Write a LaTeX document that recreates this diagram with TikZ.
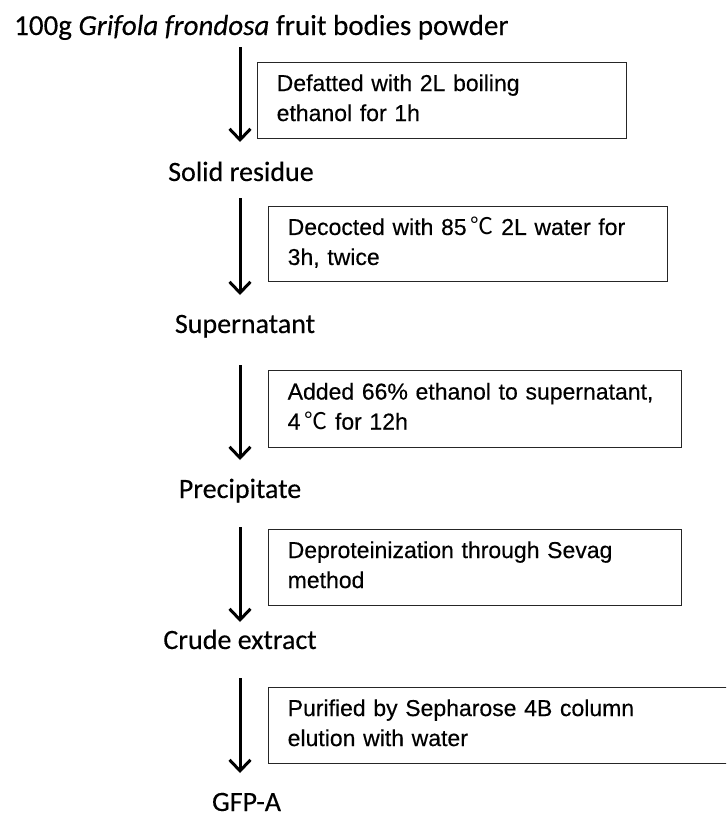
\documentclass[tikz,border=0pt]{standalone}
\usepackage{fontspec}
\setmainfont{Carlito}[FakeBold=0.3]
\newfontfamily\boxfont{Liberation Sans}[FakeBold=0.35]
\newfontfamily\cjkfont{Noto Sans CJK SC}
\usetikzlibrary{arrows.meta}
\newcommand\myC{{\cjkfont ℃}}
\newcommand\bstrut{\rule[-6pt]{0pt}{22pt}}
\tikzset{
  lab/.style={font=\fontsize{28}{34}\selectfont, text=black, inner sep=0pt},
  stepbox/.style={draw=black!85, line width=1.4pt, text=black,
    font=\boxfont\fontsize{23}{30}\selectfont, align=left,
    inner xsep=19pt, inner ysep=0pt, anchor=north west},
  flow/.style={line width=3pt, -{Straight Barb[length=11pt,width=21pt,line width=3pt]}}
}
\begin{document}
\begin{tikzpicture}[x=1pt,y=-1pt]
\useasboundingbox (0,0) rectangle (726,819);
\fill[white] (0,0) rectangle (726,819);
\clip (0,0) rectangle (726,819);

% labels
\node[lab, anchor=base west, font=\fontsize{29}{34}\selectfont] (title) at (14,35) {100g \textit{Grifola frondosa} fruit bodies powder};
\node[lab, anchor=base] (solid) at (241,181) {Solid residue};
\node[lab, anchor=base] (super) at (245,333) {Supernatant};
\node[lab, anchor=base] (precip) at (240,498) {Precipitate};
\node[lab, anchor=base] (crude) at (240,649) {Crude extract};
\node[lab, anchor=base] (gfp) at (246.5,811) {GFP-A};

% boxes
\node[stepbox, text width=331pt, minimum height=76pt] (b1) at (257,62)
  {\bstrut Defatted with 2L boiling\\ ethanol for 1h\bstrut};
\node[stepbox, text width=361pt, minimum height=75pt] (b2) at (268,206)
  {\bstrut Decocted with 85\,\myC\ 2L water for\\ 3h, twice\bstrut};
\node[stepbox, text width=375pt, minimum height=77pt] (b3) at (268,370)
  {\bstrut Added 66\% ethanol to supernatant,\\ 4\,\myC\ for 12h\bstrut};
\node[stepbox, text width=375pt, minimum height=76pt] (b4) at (268,529)
  {\bstrut Deproteinization through Sevag\\ method\bstrut};
\node[stepbox, text width=439pt, minimum height=76pt] (b5) at (268,687)
  {\bstrut Purified by Sepharose 4B column\\ elution with water\bstrut};

% arrow end points
\coordinate (a1s) at (240,47);  \coordinate (a1e) at (240,142);
\coordinate (a2s) at (240,198); \coordinate (a2e) at (240,295);
\coordinate (a3s) at (240,365); \coordinate (a3e) at (240,460);
\coordinate (a4s) at (240,527); \coordinate (a4e) at (240,622);
\coordinate (a5s) at (240,678); \coordinate (a5e) at (240,773);

\draw[flow] (a1s) -- (a1e);
\draw[flow] (a2s) -- (a2e);
\draw[flow] (a3s) -- (a3e);
\draw[flow] (a4s) -- (a4e);
\draw[flow] (a5s) -- (a5e);
\end{tikzpicture}
\end{document}
